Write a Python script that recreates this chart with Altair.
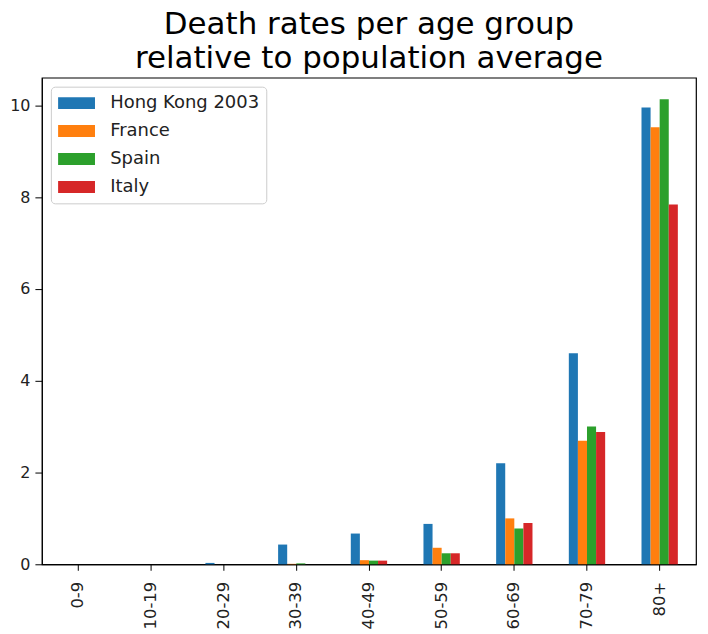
import altair as alt
import pandas as pd

age_groups = ["0-9", "10-19", "20-29", "30-39", "40-49", "50-59", "60-69", "70-79", "80+"]
series = ["Hong Kong 2003", "France", "Spain", "Italy"]
hong_kong = [0.0, 0.0, 0.03, 0.43, 0.67, 0.88, 2.2, 4.6, 9.95]
france = [0.0, 0.0, 0.0, 0.01, 0.09, 0.36, 1.0, 2.69, 9.52]
spain = [0.0, 0.0, 0.0, 0.02, 0.08, 0.24, 0.78, 3.0, 10.13]
italy = [0.0, 0.0, 0.0, 0.0, 0.08, 0.24, 0.9, 2.88, 7.84]
colors = ["#1f77b4", "#ff7f0e", "#2ca02c", "#d62728"]

rows = []
for name, vals in zip(series, [hong_kong, france, spain, italy]):
    for g, v in zip(age_groups, vals):
        rows.append({"age": g, "country": name, "rate": v})
df = pd.DataFrame(rows)

font = "DejaVu Sans"

chart = alt.Chart(df).mark_bar().encode(
    x=alt.X("age:N", sort=age_groups, title=None,
            scale=alt.Scale(paddingInner=0.5, paddingOuter=0.25),
            axis=alt.Axis(labelAngle=270, labelFontSize=16.5, labelFont=font,
                          labelColor="#222", domainColor="black", tickColor="black",
                          tickSize=6, labelPadding=11, labelBaseline="middle",
                          labelAlign="right")),
    xOffset=alt.XOffset("country:N", sort=series),
    y=alt.Y("rate:Q", title=None,
            scale=alt.Scale(domain=[0, 10.6], nice=False),
            axis=alt.Axis(values=[0, 2, 4, 6, 8, 10], grid=False, labelFontSize=16,
                          labelFont=font, labelColor="#222", domainColor="black",
                          tickColor="black", tickSize=7, labelPadding=5)),
    color=alt.Color("country:N", sort=series,
                    scale=alt.Scale(domain=series, range=colors),
                    legend=alt.Legend(title=None, orient="top-left", offset=9,
                                      labelFont=font, labelFontSize=18, labelColor="#222",
                                      symbolType="M-1,-0.65L3,-0.65L3,0.65L-1,0.65Z",
                                      symbolSize=342, symbolStrokeWidth=0,
                                      symbolOpacity=1,
                                      fillColor="white", strokeColor="#cccccc",
                                      cornerRadius=4, padding=7, rowPadding=9,
                                      labelOffset=33.5)),
).properties(
    width=656,
    height=488,
    title=alt.Title("Death rates per age group",
                    subtitle="relative to population average",
                    font=font, fontSize=31, fontWeight="normal", color="black",
                    subtitleFont=font, subtitleFontSize=31, subtitleColor="black",
                    subtitleFontWeight="normal", subtitlePadding=3,
                    anchor="middle", offset=3),
    autosize=alt.AutoSizeParams(type="none"),
    padding={"left": 34, "top": 69, "right": 4, "bottom": 70},
).configure_view(stroke="black", strokeWidth=1.2)

chart.save("out.html", embed_options={"renderer": "svg", "actions": False})
